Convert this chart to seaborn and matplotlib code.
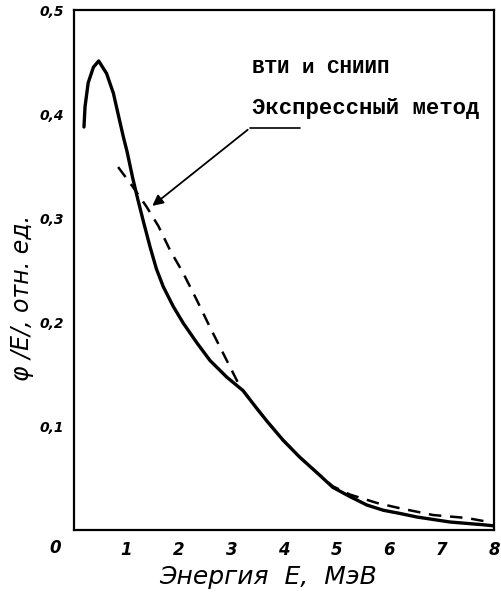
import matplotlib
matplotlib.use("Agg")
import matplotlib.pyplot as plt
import seaborn as sns
import pandas as pd

# --- data ---
solid_E = [0.19, 0.21, 0.27, 0.37, 0.47, 0.62, 0.75, 0.84, 0.94, 1.01, 1.12, 1.22, 1.32,
           1.45, 1.57, 1.70, 1.89, 2.08, 2.34, 2.59, 2.91, 3.22, 3.48, 3.67, 3.98, 4.30,
           4.63, 4.93, 5.26, 5.58, 5.89, 6.20, 6.53, 7.16, 7.80, 8.00]
solid_v = [0.3875, 0.407, 0.430, 0.445, 0.451, 0.439, 0.420, 0.400, 0.378, 0.364, 0.338, 0.317, 0.297,
           0.272, 0.251, 0.234, 0.215, 0.199, 0.180, 0.163, 0.147, 0.134, 0.117, 0.105, 0.0865, 0.070,
           0.055, 0.041, 0.032, 0.024, 0.019, 0.016, 0.0125, 0.0077, 0.005, 0.004]

dashed_E = [0.84, 1.12, 1.38, 1.61, 1.83, 2.08, 2.34, 2.59, 2.78, 2.97, 3.16, 3.48, 3.67, 3.98,
            4.30, 4.63, 4.93, 5.26, 5.77, 6.20, 6.84, 7.49, 7.90]
dashed_v = [0.349, 0.330, 0.311, 0.292, 0.269, 0.247, 0.221, 0.195, 0.176, 0.157, 0.138, 0.117, 0.105, 0.0865,
            0.070, 0.055, 0.042, 0.034, 0.026, 0.021, 0.0144, 0.0115, 0.0077]

x_ticks = [1, 2, 3, 4, 5, 6, 7, 8]
y_ticks = [0.1, 0.2, 0.3, 0.4, 0.5]
y_tick_labels = ["0,1", "0,2", "0,3", "0,4", "0,5"]

label_vti = "ВТИ и СНИИП"
label_express = "Экспрессный метод"
xlabel = "Энергия  E,  МэВ"
ylabel = "φ /E/, отн. ед."

# annotation anchor points (data coords)
vti_pos = (4.70, 0.445)
express_pos = (5.56, 0.405)
arrow_tail = (3.35, 0.3865)
arrow_head = (1.45, 0.310)
underline_end = 4.30

sns.set_style("white")
plt.rcParams['font.family'] = ['DejaVu Sans']
plt.rcParams['text.color'] = 'black'
plt.rcParams['axes.labelcolor'] = 'black'
plt.rcParams['xtick.color'] = 'black'
plt.rcParams['ytick.color'] = 'black'

df_solid = pd.DataFrame({"E": solid_E, "v": solid_v})
df_dash = pd.DataFrame({"E": dashed_E, "v": dashed_v})

fig = plt.figure(figsize=(5.01, 6.05), dpi=100)
ax = fig.add_axes([74/501, 1-530/605, 420/501, 520/605])

sns.lineplot(data=df_solid, x="E", y="v", ax=ax, color="black", lw=2.4, sort=False)
sns.lineplot(data=df_dash, x="E", y="v", ax=ax, color="black", lw=1.8, sort=False,
             dashes=False, linestyle=(0, (5, 3.5)))

ax.set_xlim(0, 8)
ax.set_ylim(0, 0.5)
ax.set_xticks(x_ticks)
ax.set_xticklabels([str(t) for t in x_ticks], fontsize=12, fontweight="bold", style="italic",
                   color="black")
ax.set_yticks(y_ticks)
ax.set_yticklabels(y_tick_labels, fontsize=10, fontweight="bold", style="italic", color="black")
ax.tick_params(axis="both", direction="in", length=5, width=1.5, color="black", labelcolor="black")
ax.tick_params(axis="x", pad=8)
ax.tick_params(axis="y", pad=7)
ax.text(-0.36, -0.035, "0", transform=ax.get_xaxis_transform(), ha="center", va="center",
        fontsize=12, fontweight="bold", style="italic", color="black")

for s in ax.spines.values():
    s.set_visible(True)
    s.set_color("black")
    s.set_linewidth(1.6)

ax.set_xlabel(xlabel, fontsize=18, style="italic", color="black")
ax.xaxis.set_label_coords(0.462, -0.068)
ax.set_ylabel(ylabel, fontsize=17, style="italic", color="black")
ax.yaxis.set_label_coords(-0.095, 0.446)

mono = ["Liberation Mono", "DejaVu Sans Mono"]
ax.text(*vti_pos, label_vti, family=mono, fontweight="bold", fontsize=15,
        ha="center", va="center", color="black")
ax.text(*express_pos, label_express, family=mono, fontweight="bold", fontsize=16,
        ha="center", va="center", color="black")
ax.plot([arrow_tail[0], underline_end], [arrow_tail[1], arrow_tail[1]], color="black", lw=1.2)
ax.annotate("", xy=arrow_head, xytext=arrow_tail,
            arrowprops=dict(arrowstyle="-|>", color="black", lw=1.3, mutation_scale=16))

fig.savefig("out.png", dpi=100)
